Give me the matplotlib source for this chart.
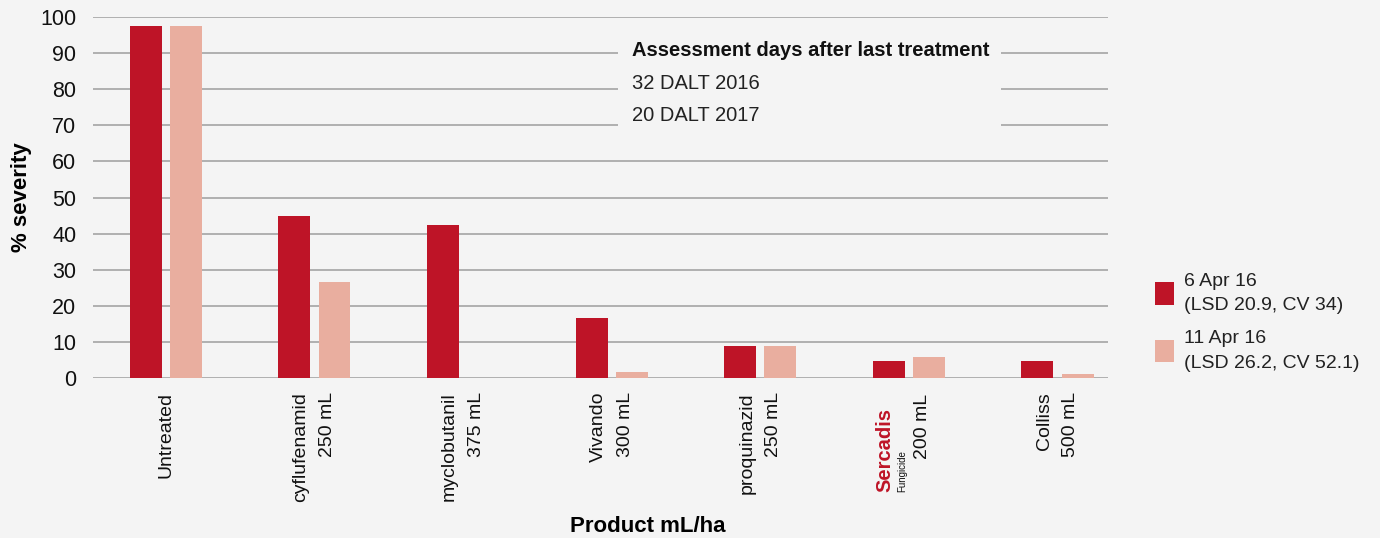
import matplotlib
matplotlib.use("Agg")
import matplotlib.pyplot as plt
from matplotlib.patches import Rectangle, Patch
from matplotlib.transforms import blended_transform_factory
import numpy as np

plt.rcParams['font.family'] = ['Liberation Sans', 'DejaVu Sans']

# data
products = ["Untreated", "cyflufenamid\n250 mL", "myclobutanil\n375 mL",
            "Vivando\n300 mL", "proquinazid\n250 mL", "", "Colliss\n500 mL"]
apr6 = [97.5, 44.9, 42.4, 16.6, 8.9, 4.7, 4.7]
apr11 = [97.5, 26.6, 0, 1.7, 8.9, 5.8, 1.1]
series_labels = ["6 Apr 16\n(LSD 20.9, CV 34)", "11 Apr 16\n(LSD 26.2, CV 52.1)"]
note_lines = ["Assessment days after last treatment", "32 DALT 2016", "20 DALT 2017"]

bg = "#f4f4f4"
red = "#be1427"
pink = "#e9ae9f"
grid_col = "#aaaaaa"

fig = plt.figure(figsize=(13.8, 5.38), dpi=100, facecolor=bg)
ax = fig.add_axes([93/1380, 1-378/538, (1108-93)/1380, (378-17)/538])
ax.set_facecolor(bg)

x = np.arange(len(products))
w = 0.215
ax.bar(x - 0.135, apr6, w, color=red, zorder=3)
ax.bar(x + 0.135, apr11, w, color=pink, zorder=3)

ax.set_ylim(0, 100)
ax.set_xlim(-0.49, 6.34)
ax.set_yticks(range(0, 101, 10))
ax.yaxis.grid(True, color=grid_col, linewidth=1.3, zorder=0)
ax.set_axisbelow(True)
for s in ax.spines.values():
    s.set_visible(False)
ax.tick_params(axis='both', length=0, labelsize=15.5, colors="#111111")
ax.tick_params(axis='y', pad=12)
ax.set_xticks(x)
ax.set_xticklabels(products, rotation=90, ha='center', va='top',
                   multialignment='right', fontsize=14, linespacing=1.75)
ax.tick_params(axis='x', pad=10)

# Sercadis logo-style label
tr = blended_transform_factory(ax.transData, ax.transAxes)
ax.text(5 - 0.16, -0.317, "Sercadis", transform=tr, rotation=90, ha='center',
        va='bottom', color=red, fontsize=14.5, fontweight='bold')
ax.text(5 - 0.045, -0.317, "Fungicide", transform=tr, rotation=90, ha='center',
        va='bottom', color="#111111", fontsize=7)
ax.text(5 + 0.09, -0.045, "200 mL", transform=tr, rotation=90, ha='center',
        va='top', color="#111111", fontsize=14)

ax.set_ylabel("% severity", fontsize=16, fontweight='bold')
ax.yaxis.set_label_coords(-0.060, 0.5)
ax.set_xlabel("Product mL/ha", fontsize=16, fontweight='bold')
ax.xaxis.set_label_coords(0.547, -0.382)

# note box covering gridlines
ax.add_patch(Rectangle((3.04, 65), 2.58, 30, facecolor=bg, edgecolor='none', zorder=1))
ax.text(3.14, 90.6, note_lines[0], fontsize=14.5, fontweight='bold', va='center', zorder=4, color="#111111")
ax.text(3.14, 81.6, note_lines[1], fontsize=14.5, va='center', zorder=4, color="#222222")
ax.text(3.14, 72.6, note_lines[2], fontsize=14.5, va='center', zorder=4, color="#222222")

handles = [Patch(facecolor=red), Patch(facecolor=pink)]
leg = fig.legend(handles, series_labels, loc='upper left', bbox_to_anchor=(1137/1380, 1-255/538),
                 frameon=False, fontsize=14, handlelength=1.0, handleheight=1.4,
                 handletextpad=0.5, labelspacing=0.8, labelcolor="#222222")
for t in leg.get_texts():
    t.set_linespacing(1.6)

fig.savefig("out.png", dpi=100, facecolor=bg)
